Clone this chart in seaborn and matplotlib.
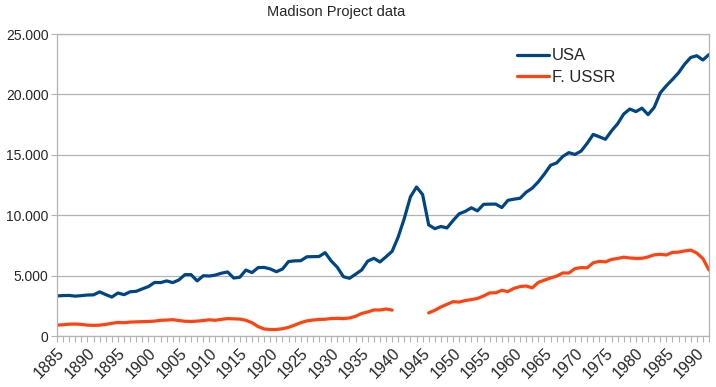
import matplotlib

matplotlib.use("Agg")
import matplotlib.pyplot as plt
import matplotlib.ticker as mticker
import numpy as np
import pandas as pd
import seaborn as sns

# Maddison project GDP per capita (1990 GK$)
years = list(range(1885, 1993))

usa = [
    3319, 3347, 3358, 3300, 3342, 3392, 3407, 3653, 3427, 3227,  # 1885-1894
    3560, 3420, 3660, 3700, 3900, 4091, 4430, 4420, 4560, 4420,  # 1895-1904
    4640, 5080, 5080, 4560, 4990, 4964, 5046, 5201, 5301, 4799,  # 1905-1914
    4864, 5459, 5248, 5659, 5680, 5552, 5323, 5540, 6164, 6221,  # 1915-1924
    6233, 6557, 6569, 6578, 6899, 6213, 5691, 4908, 4777, 5114,  # 1925-1934
    5467, 6204, 6430, 6126, 6561, 7010, 8206, 9741, 11518, 12333,  # 1935-1944
    11709, 9197, 8886, 9065, 8944, 9561, 10116, 10316, 10613, 10359,  # 1945-1954
    10897, 10914, 10920, 10631, 11230, 11328, 11402, 11905, 12242, 12773,  # 1955-1964
    13419, 14134, 14330, 14863, 15179, 15030, 15304, 15944, 16689, 16491,  # 1965-1974
    16284, 16975, 17567, 18373, 18789, 18577, 18856, 18325, 18920, 20123,  # 1975-1984
    20717, 21236, 21788, 22499, 23059, 23201, 22849, 23298,  # 1985-1992
]

ussr = [
    900, 930, 980, 990, 960, 900, 880, 900, 960, 1050,  # 1885-1894
    1120, 1100, 1150, 1170, 1190, 1200, 1230, 1300, 1320, 1350,  # 1895-1904
    1280, 1220, 1200, 1230, 1280, 1340, 1300, 1380, 1440, 1420,  # 1905-1914
    1400, 1300, 1100, 780, 580, 540, 540, 600, 720, 900,  # 1915-1924
    1100, 1250, 1320, 1370, 1386, 1448, 1462, 1439, 1493, 1630,  # 1925-1934
    1864, 1991, 2156, 2150, 2237, 2144, None, None, None, None,  # 1935-1944
    None, 1913, 2126, 2402, 2623, 2841, 2806, 2937, 3013, 3106,  # 1945-1954
    3313, 3566, 3576, 3777, 3680, 3945, 4091, 4139, 3985, 4439,  # 1955-1964
    4626, 4806, 4957, 5217, 5213, 5575, 5665, 5643, 6059, 6176,  # 1965-1974
    6136, 6334, 6420, 6524, 6460, 6427, 6432, 6544, 6715, 6763,  # 1975-1984
    6708, 6921, 6943, 7042, 7112, 6871, 6409, 5460,  # 1985-1992
]

series_names = ["USA", "F. USSR"]
colors = ["#004586", "#ff420e"]

rows = []
for name, values in zip(series_names, [usa, ussr]):
    segment = 0
    for year, value in zip(years, values):
        if value is None:
            segment += 1
            continue
        rows.append({"year": year, "gdp": value, "country": name, "segment": segment})
df = pd.DataFrame(rows)

sns.set_style("white")
plt.rcParams["font.family"] = ["Liberation Sans", "DejaVu Sans"]
grey = "#b3b3b3"

fig = plt.figure(figsize=(7.16, 3.87), dpi=100)
ax = fig.add_axes([57 / 716, 51 / 387, 652 / 716, 302 / 387])

sns.lineplot(
    data=df,
    x="year",
    y="gdp",
    hue="country",
    hue_order=series_names,
    palette=colors,
    units="segment",
    estimator=None,
    linewidth=2.3,
    ax=ax,
)

ax.set_xlim(1885, 1992)
ax.set_ylim(0, 25000)
ax.set_xlabel("")
ax.set_ylabel("")

ax.yaxis.set_major_locator(mticker.MultipleLocator(5000))
ax.yaxis.set_major_formatter(
    mticker.FuncFormatter(lambda v, _: f"{v:,.0f}".replace(",", "."))
)
ax.xaxis.set_minor_locator(mticker.MultipleLocator(1))
ax.set_xticks(range(1885, 1991, 5))
ax.set_xticklabels([str(y) for y in range(1885, 1991, 5)], rotation=45,
                   ha="right", rotation_mode="anchor")

ax.grid(axis="y", color=grey, linewidth=0.9)
ax.set_axisbelow(True)
for spine in ax.spines.values():
    spine.set_color(grey)
    spine.set_linewidth(0.9)

ax.tick_params(axis="x", which="both", direction="out", length=4, width=0.8,
               color=grey, labelsize=11.5, pad=3, bottom=True)
ax.tick_params(axis="y", which="major", direction="out", length=4, width=0.8,
               color=grey, labelsize=10, pad=2, left=True)

ax.legend(
    loc="upper left",
    bbox_to_anchor=(0.693, 0.98),
    frameon=False,
    fontsize=12,
    handlelength=1.9,
    handletextpad=0.2,
    labelspacing=0.38,
    borderpad=0,
    title=None,
)

fig.text(336 / 716, 1 - 12 / 387, "Madison Project data", ha="center",
         va="center", fontsize=10.5)

fig.savefig("out.png", dpi=100)
plt.close(fig)
